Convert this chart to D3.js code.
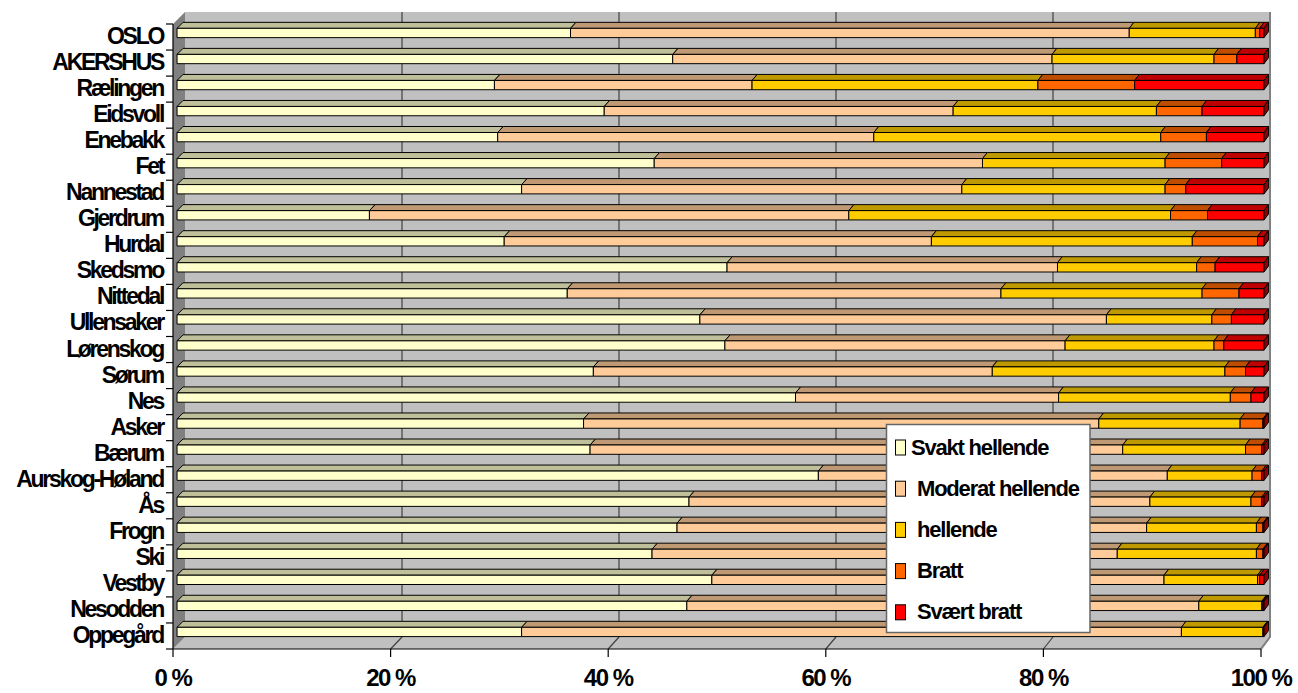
<!DOCTYPE html>
<html>
<head>
<meta charset="utf-8">
<script src="https://cdn.jsdelivr.net/npm/d3@7"></script>
<style>
  body { margin: 0; background: #fff; }
  svg text { font-family: "Liberation Sans", Arial, sans-serif; font-weight: bold; fill: #000; }
</style>
</head>
<body>
<svg id="chart" width="1298" height="693"></svg>
<script>
// Share of area by slope class per municipality (percent of total)
const categories = ["OSLO", "AKERSHUS", "Rælingen", "Eidsvoll", "Enebakk", "Fet", "Nannestad", "Gjerdrum",
  "Hurdal", "Skedsmo", "Nittedal", "Ullensaker", "Lørenskog", "Sørum", "Nes", "Asker", "Bærum",
  "Aurskog-Høland", "Ås", "Frogn", "Ski", "Vestby", "Nesodden", "Oppegård"];
const seriesNames = ["Svakt hellende", "Moderat hellende", "hellende", "Bratt", "Svært bratt"];
const svaktHellende   = [36.2, 45.6, 29.2, 39.3, 29.5, 43.9, 31.7, 17.7, 30.1, 50.6, 35.9, 48.1, 50.4, 38.3, 56.9, 37.4, 38.0, 59.0, 47.1, 46.0, 43.7, 49.2, 46.9, 31.7];
const moderatHellende = [51.4, 34.9, 23.7, 32.1, 34.6, 30.2, 40.5, 44.1, 39.3, 30.4, 39.9, 37.4, 31.3, 36.7, 24.2, 47.4, 49.0, 32.1, 42.4, 43.2, 42.8, 41.6, 47.1, 60.7];
const hellende        = [11.6, 14.9, 26.3, 18.7, 26.4, 16.8, 18.7, 29.6, 24.0, 12.8, 18.5, 9.7, 13.7, 21.4, 15.8, 13.0, 11.3, 7.8, 9.3, 10.1, 12.8, 8.6, 5.8, 7.5];
const bratt           = [0.4, 2.1, 8.9, 4.2, 4.2, 5.2, 1.9, 3.4, 6.0, 1.7, 3.4, 1.8, 0.9, 1.9, 1.9, 2.1, 1.5, 0.9, 1.0, 0.6, 0.6, 0.2, 0.1, 0.05];
const svaertBratt     = [0.4, 2.5, 11.9, 5.7, 5.3, 3.9, 7.2, 5.2, 0.6, 4.5, 2.3, 3.0, 3.7, 1.7, 1.2, 0.1, 0.2, 0.2, 0.2, 0.1, 0.1, 0.4, 0.1, 0.05];
const tickValues = [0, 0.2, 0.4, 0.6, 0.8, 1];
const tickLabels = ["0 %", "20 %", "40 %", "60 %", "80 %", "100 %"];

const seriesColors = ["#FFFFCC", "#FFCC99", "#FFCC00", "#FF6600", "#FF0000"];

const seriesValues = [svaktHellende, moderatHellende, hellende, bratt, svaertBratt];
const rows = categories.map((c, i) => {
  const r = { category: c };
  seriesNames.forEach((s, k) => { r[s] = seriesValues[k][i]; });
  return r;
});
const stacked = d3.stack().keys(seriesNames).offset(d3.stackOffsetExpand)(rows);

const svg = d3.select("#chart");

// Oblique 3D box: front plane scales plus a depth shift toward the upper right
const x = d3.scaleLinear().domain([0, 1]).range([173, 1261]);
const y = d3.scaleBand().domain(categories).range([24, 649]).paddingInner(0.643).paddingOuter(0.3215);
const depthX = d3.scaleLinear().domain([0, 1]).range([12, 9]);
const depthY = 12;
const P = (v, yy, d) => [x(v) + d * depthX(v), yy - d * depthY];
const poly = pts => pts.map(p => p.join(",")).join(" ");
const shade = (c, k) => { const o = d3.rgb(c); return d3.rgb(o.r * k, o.g * k, o.b * k).formatHex(); };

const yTop = 24, yBot = 649;

// walls and floor
svg.append("polygon").attr("points", poly([P(0, yTop, 1), P(1, yTop, 1), P(1, yBot, 1), P(0, yBot, 1)]))
  .attr("fill", "#C0C0C0");
svg.append("polygon").attr("points", poly([P(0, yBot, 0), P(1, yBot, 0), P(1, yBot, 1), P(0, yBot, 1)]))
  .attr("fill", "#C0C0C0");
svg.append("polygon").attr("points", poly([P(0, yTop, 0), P(0, yTop, 1), P(0, yBot, 1), P(0, yBot, 0)]))
  .attr("fill", "#808080");

// gridlines on back wall and floor
const grid = svg.append("g").attr("stroke", "#404040").attr("stroke-width", 1.2);
tickValues.filter(v => v > 0 && v < 1).forEach(v => {
  const a = P(v, yTop, 1), b = P(v, yBot, 1);
  grid.append("line").attr("x1", a[0]).attr("y1", a[1]).attr("x2", b[0]).attr("y2", b[1]);
});
tickValues.filter(v => v > 0).forEach(v => {
  const a = P(v, yBot, 0), b = P(v, yBot, 1);
  grid.append("line").attr("x1", a[0]).attr("y1", a[1]).attr("x2", b[0]).attr("y2", b[1]);
});
// right edge of the box
{
  const a = P(1, yTop, 1), b = P(1, yBot, 1), c = P(1, yBot, 0);
  svg.append("polyline").attr("points", poly([a, b, c])).attr("fill", "none")
    .attr("stroke", "#808080").attr("stroke-width", 2);
}

// bars
const dF = 0.336, dB = 0.836;
const bars = svg.append("g").attr("stroke", "#000").attr("stroke-width", 1).attr("stroke-linejoin", "round");
stacked.forEach((layer, k) => {
  const col = seriesColors[k];
  layer.forEach((seg, i) => {
    const v0 = seg[0], v1 = seg[1];
    const t = y(categories[i]), b = t + y.bandwidth();
    bars.append("polygon")
      .attr("points", poly([P(v0, t, dF), P(v1, t, dF), P(v1, t, dB), P(v0, t, dB)]))
      .attr("fill", shade(col, 0.75));
    bars.append("polygon")
      .attr("points", poly([P(v0, t, dF), P(v1, t, dF), P(v1, b, dF), P(v0, b, dF)]))
      .attr("fill", col);
    if (k === stacked.length - 1) {
      bars.append("polygon")
        .attr("points", poly([P(1, t, dF), P(1, t, dB), P(1, b, dB), P(1, b, dF)]))
        .attr("fill", shade(col, 0.55));
    }
  });
});

// axes
const axes = svg.append("g").attr("stroke", "#000").attr("stroke-width", 1.2);
axes.append("line").attr("x1", x(0)).attr("y1", yTop).attr("x2", x(0)).attr("y2", yBot);
axes.append("line").attr("x1", x(0)).attr("y1", yBot).attr("x2", x(1)).attr("y2", yBot);
const step = y.step();
d3.range(categories.length + 1).forEach(j => {
  const yy = yTop + j * step;
  axes.append("line").attr("x1", x(0) - 7).attr("y1", yy).attr("x2", x(0)).attr("y2", yy);
});
tickValues.forEach(v => {
  axes.append("line").attr("x1", x(v)).attr("y1", yBot).attr("x2", x(v)).attr("y2", yBot + 8);
});

// category labels
svg.append("g").selectAll("text").data(categories).join("text")
  .attr("x", 163)
  .attr("y", d => y(d) + y.bandwidth() / 2 + 7)
  .attr("text-anchor", "end")
  .attr("font-size", 23)
  .attr("letter-spacing", -2.3)
  .text(d => d);

// value axis labels
svg.append("g").selectAll("text").data(tickValues).join("text")
  .attr("x", v => x(v))
  .attr("y", 686)
  .attr("text-anchor", "middle")
  .attr("font-size", 24)
  .attr("letter-spacing", -1.5)
  .text((v, i) => tickLabels[i]);

// legend
const legend = svg.append("g");
legend.append("rect").attr("x", 886.5).attr("y", 424.5).attr("width", 203.5).attr("height", 208)
  .attr("fill", "#fff").attr("stroke", "#666").attr("stroke-width", 1.5);
seriesNames.forEach((s, k) => {
  const cy = 447.5 + k * 41.2;
  legend.append("rect").attr("x", 895.5).attr("y", cy - 7.5).attr("width", 10).attr("height", 15)
    .attr("fill", seriesColors[k]).attr("stroke", "#000").attr("stroke-width", 1);
  legend.append("text").attr("x", k === 0 ? 911 : 917).attr("y", cy + 7)
    .attr("font-size", 22).attr("letter-spacing", -1.2).text(s);
});
</script>
</body>
</html>
